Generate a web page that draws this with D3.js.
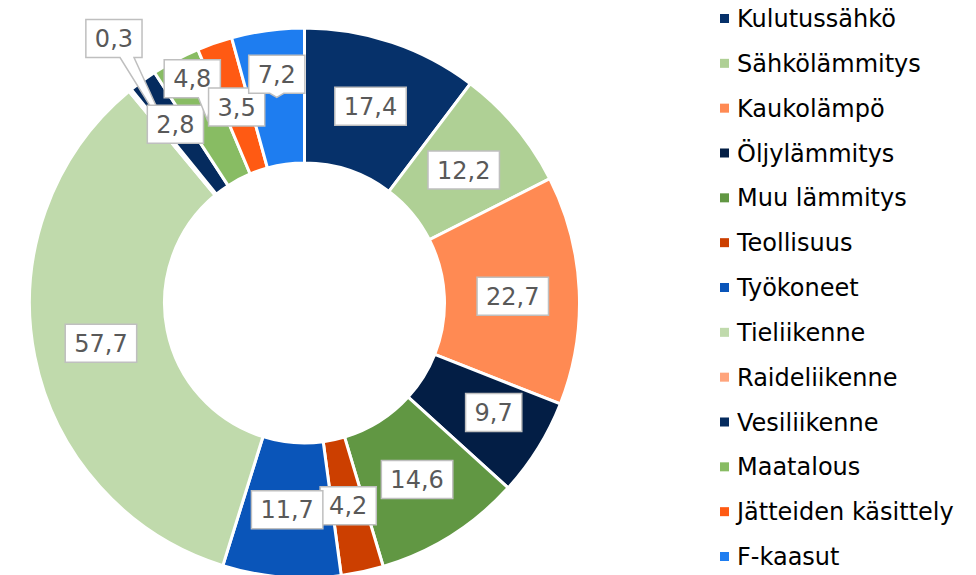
<!DOCTYPE html>
<meta charset="utf-8">
<head>
<style>
body { margin: 0; background: #fff; }
svg { display: block; font-family: "DejaVu Sans", Verdana, sans-serif; }
.slice { stroke: #fff; stroke-width: 3px; }
.lbl path { fill: #fff; stroke: #bfbfbf; stroke-width: 1.5px; }
.lbl text { fill: #595959; font-size: 24px; }
.legend text { fill: #000; font-size: 24px; }
</style>
</head>
<body>
<script src="https://d3js.org/d3.v7.min.js"></script>
<script>

// data
var categories = ["Kulutussähkö", "Sähkölämmitys", "Kaukolämpö", "Öljylämmitys", "Muu lämmitys",
  "Teollisuus", "Työkoneet", "Tieliikenne", "Raideliikenne", "Vesiliikenne",
  "Maatalous", "Jätteiden käsittely", "F-kaasut"];
var values = [17.4, 12.2, 22.7, 9.7, 14.6, 4.2, 11.7, 57.7, 0.3, 2.8, 4.8, 3.5, 7.2];

var colors = ["#06316a", "#afd095", "#ff8a53", "#031e45", "#619743", "#cc3f00", "#0a55b9",
  "#c0daac", "#ffa47c", "#052b5e", "#88bc63", "#ff5a13", "#1e7df0"];

// label nudges (px from slice centroid) where the chart moved a label off the slice
var nudge = {
  "Kaukolämpö": [1, 3],
  "Öljylämmitys": [13, 0],
  "Muu lämmitys": [2, 1],
  "Raideliikenne": [-59, -104],
  "Vesiliikenne": [-7, -11],
  "Maatalous": [-15, -41],
  "F-kaasut": [0, -23]
};

var width = 976, height = 575;
var cx = 304.5, cy = 303, rOut = 275, rIn = 140;

var fmt = d3.formatLocale({decimal: ",", thousands: " ", grouping: [3], currency: ["", ""]}).format(".1f");

var svg = d3.select("body").append("svg")
    .attr("width", width)
    .attr("height", height);

var data = categories.map(function(c, i) { return {name: c, value: values[i], i: i}; });

var color = d3.scaleOrdinal().domain(categories).range(colors);

var pie = d3.pie().sort(null).value(function(d) { return d.value; });
var arc = d3.arc().innerRadius(rIn).outerRadius(rOut);
var mid = d3.arc().innerRadius(rIn).outerRadius(rOut);

var g = svg.append("g").attr("transform", "translate(" + cx + "," + cy + ")");
var arcs = pie(data);

g.selectAll("path.slice")
  .data(arcs)
  .enter().append("path")
    .attr("class", "slice")
    .attr("fill", function(d) { return color(d.data.name); })
    .attr("d", arc);

// data labels (callout boxes)
var lbl = g.selectAll("g.lbl")
  .data(arcs)
  .enter().append("g")
    .attr("class", "lbl");

lbl.each(function(d) {
  var sel = d3.select(this);
  var c = mid.centroid(d);
  var n = nudge[d.data.name] || [0, 0];
  var bx = c[0] + n[0], by = c[1] + n[1];
  var txt = fmt(d.data.value);
  var t = sel.append("text")
      .attr("x", bx)
      .attr("y", by)
      .attr("dy", "0.36em")
      .attr("text-anchor", "middle")
      .text(txt);
  var tw = t.node().getComputedTextLength();
  var w = tw + 18, h = 38;
  var x0 = bx - w / 2, x1 = bx + w / 2, y0 = by - h / 2, y1 = by + h / 2;
  var p;
  var inside = c[0] >= x0 && c[0] <= x1 && c[1] >= y0 && c[1] <= y1;
  if (inside) {
    p = "M" + x0 + "," + y0 + "H" + x1 + "V" + y1 + "H" + x0 + "Z";
  } else {
    // wedge on bottom edge pointing to centroid
    var m = Math.max(x0 + 15, Math.min(x1 - 15, c[0]));
    p = "M" + x0 + "," + y0 + "H" + x1 + "V" + y1 +
        "H" + (m + 7) + "L" + c[0] + "," + c[1] + "L" + (m - 7) + "," + y1 +
        "H" + x0 + "Z";
  }
  sel.insert("path", "text").attr("d", p);
});

// legend
var ly = d3.scalePoint().domain(categories).range([18.5, 556.5]);

var leg = svg.append("g").attr("class", "legend")
  .selectAll("g")
  .data(categories)
  .enter().append("g")
    .attr("transform", function(d) { return "translate(720," + ly(d) + ")"; });

leg.append("rect")
    .attr("x", 0)
    .attr("y", -4.5)
    .attr("width", 9)
    .attr("height", 9)
    .attr("fill", function(d) { return color(d); });

leg.append("text")
    .attr("x", 17)
    .attr("dy", "0.36em")
    .text(function(d) { return d; });

</script>
</body>
